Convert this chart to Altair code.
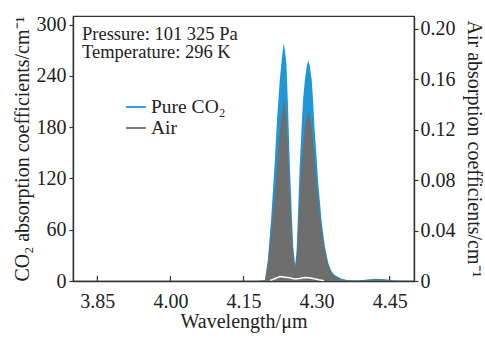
import altair as alt
import pandas as pd

# ---- data ----
wavelength = [3.80, 4.10, 4.18, 4.194, 4.200, 4.207, 4.214, 4.219, 4.2245, 4.229,
              4.2326, 4.235, 4.238, 4.241, 4.245, 4.249, 4.252, 4.256, 4.259, 4.262,
              4.265, 4.269, 4.272, 4.276, 4.280, 4.283, 4.286, 4.290, 4.293, 4.296,
              4.300, 4.303, 4.307, 4.310, 4.317, 4.324, 4.330, 4.337, 4.351, 4.365,
              4.38, 4.40, 4.42, 4.44, 4.46, 4.50]
co2_abs = [0, 0, 0, 1, 25, 75, 138, 190, 235, 262,
           278, 270, 255, 210, 138, 80, 41, 18, 35, 80,
           130, 177, 210, 235, 252, 258, 252, 235, 210, 177,
           145, 118, 92, 72, 41, 21, 12, 7, 2.5, 1,
           0.5, 1.5, 2.5, 2, 0.5, 0]
air_abs = [0, 0, 0, 0.0005, 0.0135, 0.038, 0.067, 0.0925, 0.1175, 0.133,
           0.143, 0.139, 0.129, 0.105, 0.069, 0.0405, 0.0216, 0.0104, 0.019, 0.0405,
           0.065, 0.0886, 0.1065, 0.1207, 0.131, 0.134, 0.131, 0.122, 0.111, 0.0945,
           0.0784, 0.0654, 0.0516, 0.0409, 0.0236, 0.0121, 0.0069, 0.0038, 0.0012, 0.0005,
           0.0002, 0.0008, 0.0012, 0.0010, 0.0002, 0]

low_wl = [4.205, 4.215, 4.225, 4.235, 4.245, 4.255, 4.265, 4.275, 4.285, 4.295, 4.305, 4.315]
low_val = [0.0005, 0.002, 0.0035, 0.003, 0.0025, 0.0015, 0.002, 0.0028, 0.0025, 0.0018, 0.001, 0.0003]

x_ticks = [3.85, 4.00, 4.15, 4.30, 4.45]
left_ticks = [0, 60, 120, 180, 240, 300]
right_ticks = [0, 0.04, 0.08, 0.12, 0.16, 0.20]
series_names = ["Pure CO\u2082", "Air"]
series_colors = ["#1f97d6", "#6e6e6e"]
notes = ["Pressure: 101 325 Pa", "Temperature: 296 K"]

df = pd.DataFrame({"wl": wavelength, "co2": co2_abs, "air": air_abs})
low_df = pd.DataFrame({"wl": low_wl, "v": low_val})
tick_df = pd.DataFrame({"t": x_ticks})

FONT = "Liberation Serif"
W, H = 341, 265
xscale = alt.Scale(domain=[3.80, 4.50], nice=False, zero=False)
color_scale = alt.Scale(domain=series_names, range=series_colors)

x_enc = alt.X("wl:Q", scale=xscale,
              axis=alt.Axis(values=x_ticks, format=".2f", tickSize=0, labelPadding=10,
                            title="Wavelength/\u03bcm", titleY=46, titleBaseline="alphabetic",
                            grid=False))

blue = alt.Chart(df).transform_calculate(series="'Pure CO\u2082'").mark_area(
    interpolate="linear").encode(
    x=x_enc,
    y=alt.Y("co2:Q", scale=alt.Scale(domain=[0, 310], nice=False),
            axis=alt.Axis(orient="left", values=left_ticks, tickSize=4, labelPadding=3,
                          grid=False, title="CO\u2082 absorption coefficients/cm\u207b\u00b9",
                          titleAngle=-90, titleX=-51, titleY=H / 2, titleBaseline="middle",
                          titleAlign="center")),
    color=alt.Color("series:N", scale=color_scale,
                    legend=alt.Legend(title=None, orient="none", legendX=52, legendY=80,
                                      symbolType="M-1,-0.09H1V0.09H-1Z", symbolSize=400,
                                      labelOffset=4, rowPadding=0, padding=0)),
)

tick_rules = alt.Chart(tick_df).mark_rule(color="#333", strokeWidth=1.2).encode(
    x=alt.X("t:Q", scale=xscale),
    y=alt.value(H), y2=alt.value(H - 5))

gray = alt.Chart(df).transform_calculate(series="'Air'").mark_area(
    interpolate="linear").encode(
    x=alt.X("wl:Q", scale=xscale),
    y=alt.Y("air:Q", scale=alt.Scale(domain=[0, 0.21], nice=False),
            axis=alt.Axis(orient="right", values=right_ticks, tickSize=4, labelPadding=2,
                          grid=False,
                          labelExpr="datum.value == 0 ? '0' : format(datum.value, '.2f')",
                          title="Air absorption coefficients/cm\u207b\u00b9",
                          titleAngle=90, titleX=59, titleY=H / 2, titleBaseline="middle",
                          titleAlign="center")),
    color=alt.Color("series:N", scale=color_scale),
)

white_line = alt.Chart(low_df).mark_line(color="white", strokeWidth=1.5).encode(
    x=alt.X("wl:Q", scale=xscale),
    y=alt.Y("v:Q"))

note1 = alt.Chart(pd.DataFrame({"t": [notes[0]]})).mark_text(
    align="left", baseline="alphabetic", font=FONT, fontSize=18.5, color="#222").encode(
    text="t:N", x=alt.value(9), y=alt.value(23.5))
note2 = alt.Chart(pd.DataFrame({"t": [notes[1]]})).mark_text(
    align="left", baseline="alphabetic", font=FONT, fontSize=18.5, color="#222").encode(
    text="t:N", x=alt.value(9), y=alt.value(42))

left_group = alt.layer(blue, tick_rules)
right_group = alt.layer(gray, white_line)

chart = alt.layer(left_group, right_group, note1, note2).resolve_scale(
    y="independent"
).properties(
    width=W, height=H,
    autosize=alt.AutoSizeParams(type="none"),
    padding={"left": 73, "top": 16, "right": 71, "bottom": 57},
).configure_view(
    stroke="#333", strokeWidth=1.2
).configure_axis(
    domainColor="#333", domainWidth=1.4, tickColor="#333", tickWidth=1.2,
    labelFont=FONT, labelFontSize=20, labelColor="#222",
    titleFont=FONT, titleFontSize=20, titleColor="#222", titleFontWeight="normal",
).configure_legend(
    labelFont=FONT, labelFontSize=19.5, labelColor="#222",
)

chart.save("out.html", embed_options={"renderer": "svg", "actions": False})
